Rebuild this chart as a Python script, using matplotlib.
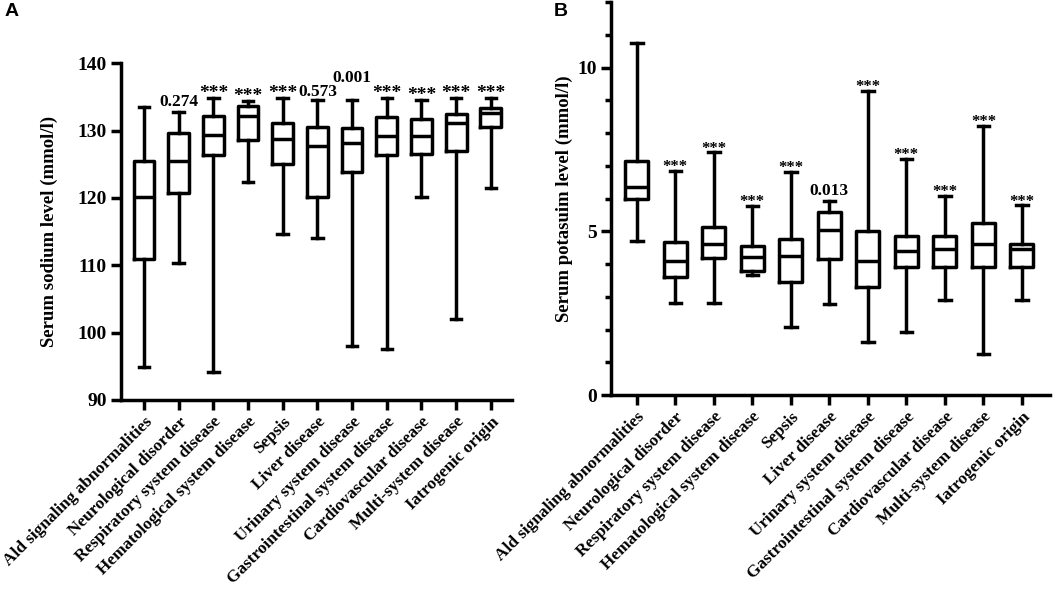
import matplotlib
matplotlib.use("Agg")
import matplotlib.pyplot as plt

categories = ["Ald signaling abnormalities", "Neurological disorder",
              "Respiratory system disease", "Hematological system disease",
              "Sepsis", "Liver disease", "Urinary system disease",
              "Gastrointestinal system disease", "Cardiovascular disease",
              "Multi-system disease", "Iatrogenic origin"]

# Panel A: serum sodium (mmol/l)
na_min = [94.9, 110.4, 94.2, 122.4, 114.7, 114.0, 98.0, 97.5, 120.1, 102.1, 121.5]
na_q1 = [110.9, 120.8, 126.4, 128.6, 125.0, 120.1, 123.9, 126.4, 126.5, 127.0, 130.6]
na_med = [120.2, 125.5, 129.3, 132.1, 128.7, 127.7, 128.1, 129.2, 129.2, 131.2, 132.6]
na_q3 = [125.5, 129.7, 132.1, 133.7, 131.1, 130.6, 130.4, 132.0, 131.8, 132.5, 133.3]
na_max = [133.5, 132.7, 134.9, 134.4, 134.8, 134.6, 134.6, 134.9, 134.6, 134.9, 134.9]
na_sig = ["", "0.274", "***", "***", "***", "0.573", "0.001", "***", "***", "***", "***"]

# Panel B: serum potassium (mmol/l)
k_min = [4.69, 2.80, 2.80, 3.67, 2.07, 2.77, 1.61, 1.92, 2.90, 1.24, 2.90]
k_q1 = [6.00, 3.62, 4.20, 3.79, 3.45, 4.15, 3.31, 3.92, 3.92, 3.92, 3.92]
k_med = [6.36, 4.10, 4.60, 4.23, 4.26, 5.04, 4.10, 4.39, 4.46, 4.60, 4.47]
k_q3 = [7.16, 4.67, 5.14, 4.56, 4.76, 5.59, 5.01, 4.86, 4.86, 5.26, 4.60]
k_max = [10.76, 6.84, 7.41, 5.77, 6.82, 5.93, 9.29, 7.20, 6.09, 8.22, 5.79]
k_sig = ["", "***", "***", "***", "***", "0.013", "***", "***", "***", "***", "***"]

SERIF = ["Liberation Serif", "DejaVu Serif"]
LW = 2.5

fig = plt.figure(figsize=(10.56, 6.02), dpi=100)
W, H = 1056, 602

def make_ax(x0, x1, ytop, ybot):
    return fig.add_axes([x0 / W, 1 - ybot / H, (x1 - x0) / W, (ybot - ytop) / H])

def draw(ax, mins, q1, med, q3, maxs, sig, ylim, yticks, ylabel, labelpad,
         star_size, star_off, num_off, minor=None, xlim=(-0.67, 10.65), extra=None):
    stats = []
    for i in range(len(categories)):
        stats.append(dict(whislo=mins[i], q1=q1[i], med=med[i], q3=q3[i], whishi=maxs[i], label=categories[i]))
    lp = dict(color="black", linewidth=LW)
    ax.bxp(stats, positions=range(len(categories)), widths=0.6, showfliers=False,
           boxprops=lp, whiskerprops=lp, capprops=lp, medianprops=lp, capwidths=0.3)
    ax.set_xlim(*xlim)
    ax.set_ylim(*ylim)
    ax.set_yticks(yticks)
    if minor is not None:
        ax.set_yticks(minor, minor=True)
    ax.set_xticks(range(len(categories)))
    ax.set_xticklabels(categories, rotation=45, ha="right", rotation_mode="anchor",
                       fontsize=12.4, fontweight="bold", family=SERIF)
    for lab in ax.get_yticklabels():
        lab.set_fontsize(14)
        lab.set_fontweight("bold")
        lab.set_family(SERIF)
    ax.set_ylabel(ylabel, fontsize=13.5, fontweight="bold", family=SERIF, labelpad=labelpad)
    for s in ["top", "right"]:
        ax.spines[s].set_visible(False)
    for s in ["left", "bottom"]:
        ax.spines[s].set_linewidth(LW)
    ax.tick_params(axis="both", which="major", length=7, width=LW, direction="out", pad=3)
    ax.tick_params(axis="y", which="minor", length=4, width=LW)
    for i, t in enumerate(sig):
        if not t:
            continue
        add = (extra or {}).get(i, 0)
        if t == "***":
            ax.annotate(t, (i, maxs[i]), xytext=(0, star_off + add), textcoords="offset points",
                        ha="center", va="bottom", fontsize=star_size, fontweight="bold", family=SERIF)
        else:
            ax.annotate(t, (i, maxs[i]), xytext=(0, num_off + add), textcoords="offset points",
                        ha="center", va="bottom", fontsize=12.5, fontweight="bold", family=SERIF)

axA = make_ax(120.7, 512, 63.3, 400)
draw(axA, na_min, na_q1, na_med, na_q3, na_max, na_sig, (90, 140),
     [90, 100, 110, 120, 130, 140], "Serum sodium level (mmol/l)", labelpad=14,
     star_size=14, star_off=-3, num_off=1.5, xlim=(-0.67, 10.61), extra={5: -1.5, 6: 8})

axB = make_ax(611, 1050, 2.2, 395)
draw(axB, k_min, k_q1, k_med, k_q3, k_max, k_sig, (0, 12),
     [0, 5, 10], "Serum potasuim level (mmol/l)", labelpad=3,
     star_size=12, star_off=-3, num_off=1.5, minor=list(range(0, 13)), xlim=(-0.67, 10.73))

fig.text(5 / W, 1 - 12 / H, "A", fontsize=14, fontweight="bold", family=["Liberation Sans"], va="center")
fig.text(554 / W, 1 - 12 / H, "B", fontsize=14, fontweight="bold", family=["Liberation Sans"], va="center")

fig.savefig("out.png", dpi=100)
